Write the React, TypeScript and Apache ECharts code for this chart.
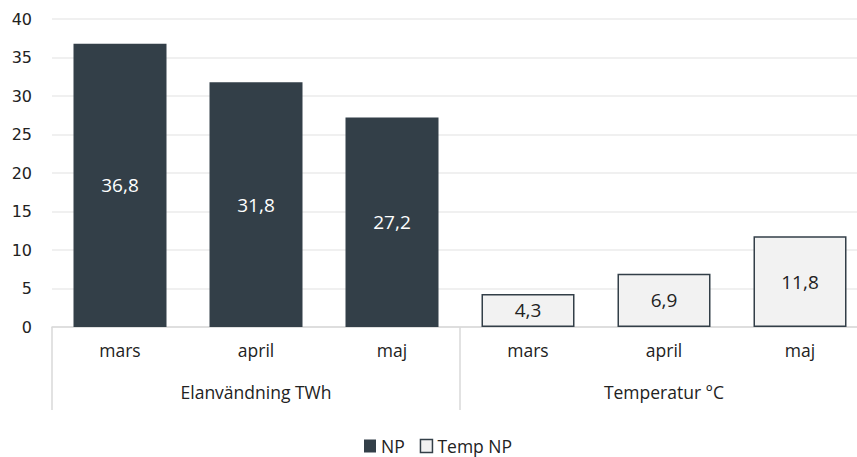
import React, { useEffect, useRef } from "react";
import * as echarts from "echarts";

const months = ["mars", "april", "maj", "mars", "april", "maj"];
const groups = ["Elanvändning TWh", "Temperatur °C"];
const npValues = [36.8, 31.8, 27.2, null, null, null];
const tempValues = [null, null, null, 4.3, 6.9, 11.8];
const seriesNames = ["NP", "Temp NP"];

const fmt = (p: any) => String(p.value).replace(".", ",");

export default function App() {
  const ref = useRef<HTMLDivElement>(null);
  useEffect(() => {
    const chart = echarts.init(ref.current!, null, { renderer: "svg" });
    const catFont = "Open Sans";
    chart.setOption({
      animation: false,
      backgroundColor: "#fff",
      grid: { left: 52, top: 19, width: 816, height: 308, containLabel: false },
      legend: {
        top: 432,
        left: 359,
        padding: 5,
        itemWidth: 12,
        itemHeight: 13,
        itemGap: 15,
        icon: "rect",
        textStyle: { fontFamily: catFont, fontSize: 17.5, color: "#222" },
        data: [
          { name: seriesNames[0] },
          { name: seriesNames[1], itemStyle: { color: "#F2F2F2", borderColor: "#333F48", borderWidth: 1.5 } },
        ],
      },
      xAxis: [
        {
          type: "category",
          data: months,
          position: "bottom",
          axisLine: { show: true, lineStyle: { color: "#D9D9D9", width: 1.5 } },
          axisTick: { show: false },
          axisLabel: { interval: 0, margin: 14, fontFamily: catFont, fontSize: 17.5, color: "#222" },
        },
        {
          type: "category",
          data: groups,
          position: "bottom",
          axisLine: { show: false },
          axisTick: { show: true, interval: 0, length: 83, lineStyle: { color: "#D9D9D9", width: 1.5 } },
          axisLabel: { interval: 0, margin: 56, fontFamily: catFont, fontSize: 17.5, color: "#222" },
        },
      ],
      yAxis: {
        type: "value",
        min: 0,
        max: 40,
        interval: 5,
        axisLine: { show: false },
        axisTick: { show: false },
        axisLabel: { margin: 20, fontFamily: "DejaVu Sans", fontSize: 16, color: "#222" },
        splitLine: { lineStyle: { color: "#EBEBEB", width: 1.5 } },
      },
      series: [
        {
          name: seriesNames[0],
          type: "bar",
          stack: "s",
          barWidth: 93,
          data: npValues,
          itemStyle: { color: "#333F48" },
          label: {
            show: true,
            position: "inside",
            formatter: fmt,
            fontFamily: catFont,
            fontSize: 19,
            color: "#fff",
          },
        },
        {
          name: seriesNames[1],
          type: "bar",
          stack: "s",
          barWidth: 93,
          data: tempValues,
          itemStyle: { color: "#F2F2F2", borderColor: "#333F48", borderWidth: 1.5 },
          label: {
            show: true,
            position: "inside",
            formatter: fmt,
            fontFamily: catFont,
            fontSize: 19,
            color: "#222",
          },
        },
      ],
    });
    return () => chart.dispose();
  }, []);
  return (
    <div style={{ position: "absolute", left: 0, top: 0, width: 857, height: 457, overflow: "hidden", background: "#fff" }}>
      <div ref={ref} style={{ width: 880, height: 457 }} />
    </div>
  );
}
